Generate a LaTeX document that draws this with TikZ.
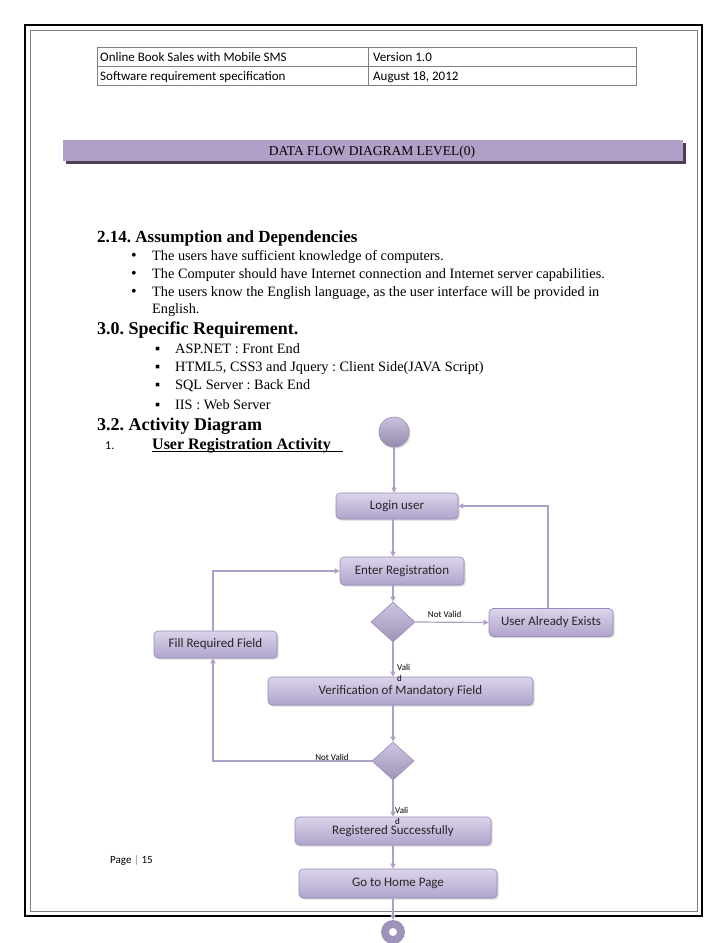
\documentclass[tikz,border=0pt]{standalone}
\usepackage{fontspec}
\setmainfont{Liberation Serif}
\newfontfamily\calfont{Carlito}
\usetikzlibrary{arrows.meta,shadows,shapes.geometric}
\definecolor{arrowc}{RGB}{172,160,202}
\definecolor{boxtop}{RGB}{220,212,234}
\definecolor{boxbot}{RGB}{176,163,204}
\definecolor{boxdraw}{RGB}{150,138,182}
\definecolor{bannerc}{RGB}{176,160,200}
\definecolor{bannershadow}{RGB}{78,62,88}
\definecolor{tablegray}{RGB}{128,128,128}
\frenchspacing
\begin{document}
\begin{tikzpicture}[x=1pt,y=-1pt,
  act/.style={draw=boxdraw, line width=0.6pt, rounded corners=4pt, top color=boxtop, bottom color=boxbot,
    drop shadow={shadow xshift=1.5pt, shadow yshift=-1.5pt, opacity=0.3},
    font=\calfont\fontsize{13}{15}\selectfont, inner sep=0pt, text=black!85},
  dec/.style={diamond, draw=boxdraw, line width=0.6pt, top color=boxtop!70!boxbot, bottom color=boxbot!90!black,
    minimum width=44pt, minimum height=40pt, inner sep=0pt},
  arr/.style={draw=arrowc, line width=1.2pt, -{Triangle[width=5pt,length=5pt]}},
  lbl/.style={font=\calfont\fontsize{9}{11}\selectfont, inner sep=0pt},
  body/.style={anchor=base west, inner sep=0pt, font=\fontsize{14.3}{16}\selectfont},
  bul/.style={anchor=base west, inner sep=0pt, font=\fontsize{16}{16}\selectfont},
  head/.style={anchor=base west, inner sep=0pt, font=\bfseries\fontsize{18}{20}\selectfont},
  tbl/.style={anchor=base west, inner sep=0pt, font=\calfont\fontsize{13}{15}\selectfont}]
\useasboundingbox (0,0) rectangle (728,943);
\fill[white] (0,0) rectangle (728,943);
% page frame
\draw[line width=1.5pt] (25,25) rectangle (702,916);
\draw[tablegray, line width=0.8pt] (30.5,30.5) rectangle (697,911);
% header table
\draw[tablegray, line width=0.9pt] (97,47) rectangle (636,85);
\draw[tablegray, line width=0.9pt] (97,66) -- (636,66);
\draw[tablegray, line width=0.9pt] (368,47) -- (368,85);
\node[tbl] (t1) at (100,61) {Online Book Sales with Mobile SMS};
\node[tbl] (t2) at (373,61) {Version 1.0};
\node[tbl] (t3) at (100,80) {Software requirement specification};
\node[tbl] (t4) at (373,80) {August 18, 2012};
% banner
\fill[bannershadow] (66,143) rectangle (686,164);
\fill[bannerc] (63,140) rectangle (683,161);
\node[font=\fontsize{13.5}{15}\selectfont, inner sep=0pt] (banner) at (372,152) {DATA FLOW DIAGRAM LEVEL(0)};
% text
\node[head, font=\bfseries\fontsize{17}{19}\selectfont] (h1) at (97,242) {2.14. Assumption and Dependencies};
\node[bul] (b1) at (131,260) {•};
\node[body] (b1t) at (152,260) {The users have sufficient knowledge of computers.};
\node[bul] (b2) at (131,278) {•};
\node[body] (b2t) at (152,278) {The Computer should have Internet connection and Internet server capabilities.};
\node[bul] (b3) at (131,296) {•};
\node[body] (b3t) at (152,296) {The users know the English language, as the user interface will be provided in};
\node[body] (b3u) at (152,313) {English.};
\node[head] (h2) at (97,334) {3.0. Specific Requirement.};
\node[body] (s1) at (155,353) {▪};
\node[body] (s1t) at (175,353) {ASP.NET : Front End};
\node[body] (s2) at (155,371) {▪};
\node[body] (s2t) at (175,371) {HTML5, CSS3 and Jquery : Client Side(JAVA Script)};
\node[body] (s3) at (155,389) {▪};
\node[body] (s3t) at (175,389) {SQL Server : Back End};
\node[body] (s4) at (155,409) {▪};
\node[body] (s4t) at (175,409) {IIS : Web Server};
\node[head] (h3) at (97,430) {3.2. Activity Diagram};
\node[anchor=base west, inner sep=0pt, font=\calfont\fontsize{12}{14}\selectfont] (n1) at (105,449) {1.};
\node[anchor=base west, inner sep=0pt, font=\bfseries\fontsize{16}{18}\selectfont] (ura) at (152,449) {User Registration Activity};
\draw[line width=0.8pt] ([yshift=-2.5pt]ura.base west) -- ([yshift=-2.5pt,xshift=191pt]ura.base west);
% footer
\node[anchor=base west, inner sep=0pt, font=\calfont\fontsize{11}{13}\selectfont] (pg) at (110,863) {Page {\color{gray}|} 15};
% activity diagram
\node[circle, draw=boxdraw, line width=0.6pt, top color=boxtop!60!boxbot, bottom color=boxbot!85!black,
  minimum size=30pt, inner sep=0pt, drop shadow={shadow xshift=1.5pt, shadow yshift=-1.5pt, opacity=0.3}] (start) at (394,432) {};
\node[act, minimum width=122pt, minimum height=26pt] (login) at (397,506) {Login user};
\node[act, minimum width=124pt, minimum height=28pt] (enter) at (402,571) {Enter Registration};
\node[dec] (d1) at (393,622) {};
\node[act, minimum width=124pt, minimum height=28pt] (uae) at (551,622.5) {User Already Exists};
\node[act, minimum width=123pt, minimum height=27pt] (fill) at (215.5,644.5) {Fill Required Field};
\node[act, minimum width=265pt, minimum height=28pt] (verif) at (400.5,691) {Verification of Mandatory Field};
\node[dec, minimum width=42pt, minimum height=38pt] (d2) at (393,761) {};
\node[act, minimum width=196pt, minimum height=28pt] (reg) at (393,831) {Registered Successfully};
\node[act, minimum width=198pt, minimum height=29pt] (home) at (398,883.5) {Go to Home Page};
\node[circle, fill=boxbot!90!black, minimum size=24pt, inner sep=0pt] (end) at (393,932) {};
\fill[white] (end.center) circle (4pt);
% connectors
\draw[arr] (start.south) -- (start.south |- login.north);
\draw[arr] (d1.north |- login.south) -- (d1.north |- enter.north);
\draw[arr] (d1.north |- enter.south) -- (d1.north);
\draw[arr] (d1.east) -- (uae.west) node[lbl, pos=0.4, above=4pt] {Not Valid};
\draw[arr] ([xshift=-3pt]uae.north) |- (login.east);
\draw[arr] (d1.south) -- (d1.south |- verif.north);
\node[lbl, anchor=north west, align=left] (v1) at (397,664) {Vali\\d};
\draw[arr] (d2.north |- verif.south) -- (d2.north);
\draw[arr] (d2.west) -| ([xshift=-2.5pt]fill.south);
\node[lbl] (nv2) at (332,757) {Not Valid};
\draw[arr] ([xshift=-2.5pt]fill.north) |- (enter.west);
\draw[arr] (d2.south) -- (d2.south |- reg.north);
\node[lbl, anchor=north west, align=left] (v2) at (395,807) {Vali\\d};
\draw[arr] (d2.south |- reg.south) -- (d2.south |- home.north);
\draw[arr] (d2.south |- home.south) -- (end.north);
\end{tikzpicture}
\end{document}
